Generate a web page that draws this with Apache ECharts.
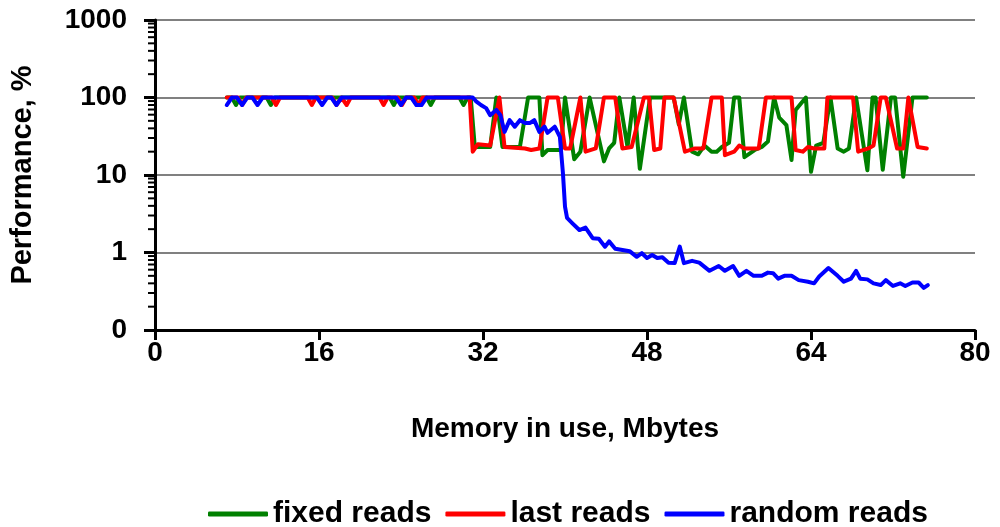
<!DOCTYPE html>
<html>
<head>
<meta charset="utf-8">
<script src="https://cdn.jsdelivr.net/npm/echarts@6/dist/echarts.min.js"></script>
<style>
html,body{margin:0;padding:0;background:#fff;}
#chart{width:1000px;height:527px;}
</style>
</head>
<body>
<div id="chart"></div>
<script>
// ---- data ----
const xTicks = [0, 16, 32, 48, 64, 80];
const yTicks = [0.1, 1, 10, 100, 1000];
const minorMultipliers = [2, 3, 4, 5, 6, 7, 8, 9];
const minorDecades = [0.1, 1, 10, 100];

const fixedReads = [
  [7,100],[7.5,100],[7.9,80],[8.3,100],[10.9,100],[11.3,80],[11.7,100],[22.9,100],[23.3,80],[23.7,100],
  [26.5,100],[26.9,80],[27.3,100],[29.7,100],[30.1,80],[30.5,100],[30.8,100],[31.2,23],[32.7,23],
  [33.3,100],[33.9,23],[35.6,23],[36.4,100],[37.5,100],[37.8,18],[38.3,21],[39.6,21],[40.0,100],
  [40.9,16],[41.5,20],[42.4,100],[43.8,15],[44.3,22],[44.8,26],[45.3,100],[46.1,23],[46.7,100],
  [47.3,12],[48.3,100],[50.6,100],[51.1,45],[51.6,100],[52.4,20],[53.0,18.5],[53.6,24],[54.3,20],
  [54.8,20],[55.3,23],[56.0,26],[56.5,100],[57.0,100],[57.5,17],[58.5,21],[59.2,23],[59.8,27],
  [60.4,100],[60.9,55],[61.6,44],[62.1,15.6],[62.5,69],[63.5,100],[64.0,11],[64.5,24],[65.2,26],
  [65.9,100],[66.6,22],[67.2,20],[67.7,22],[68.4,100],[69.5,11.5],[70.0,100],[70.3,100],[71.0,11.7],
  [71.8,100],[72.2,100],[73.0,9.5],[73.9,100],[75.3,100]
];

const lastReads = [
  [7,100],[8.1,100],[8.5,80],[8.9,100],[11.4,100],[11.8,80],[12.2,100],[14.9,100],[15.3,80],[15.7,100],
  [17.3,100],[17.7,80],[18.2,100],[18.7,80],[19.1,100],[21.9,100],[22.3,80],[22.7,100],[23.7,100],
  [24.1,80],[24.5,100],[25.3,100],[25.7,80],[26.1,100],[30.7,100],[31.0,20],[31.5,25],[32.7,24],
  [33.6,100],[34.1,23],[36.1,22],[36.7,21],[37.5,22],[38.3,100],[39.3,100],[40.0,22],[40.5,22],
  [41.5,100],[42.0,20],[43.0,22],[43.8,100],[44.9,100],[45.6,22],[46.5,23],[47.7,100],[48.2,100],
  [48.7,21],[49.3,22],[49.7,100],[50.6,100],[51.7,20],[52.7,22],[53.5,22],[54.3,100],[55.3,100],
  [55.6,18],[56.5,20],[57.0,24],[57.5,22],[58.9,22],[59.6,100],[62.1,100],[62.5,21],[63.2,20],
  [63.7,23],[64.3,22],[65.3,22],[65.6,100],[68.1,100],[68.6,20],[69.6,22],[70.1,24],[70.8,100],
  [71.3,100],[72.4,22],[73.0,22],[73.5,100],[74.4,23],[75.3,22]
];

const randomReads = [
  [7,80],[7.5,100],[8,100],[8.5,80],[9,100],[9.5,100],[10,80],[10.5,100],[15.8,100],[16.3,80],
  [16.8,100],[17.2,100],[17.7,80],[18.2,100],[23.5,100],[24,80],[24.5,100],[25,100],[25.5,80],
  [26,80],[26.5,100],[31.0,100],[31.3,90],[31.8,80],[32.3,73],[32.7,59],[33.3,69],[33.7,59],
  [34.1,36],[34.6,51],[35.1,42],[35.6,51],[36.1,47],[36.6,47],[37.0,51],[37.5,36],[38.0,42],
  [38.3,35],[39.0,42],[39.5,31],[39.8,10.5],[40.0,3.9],[40.2,2.8],[40.7,2.4],[41.4,1.95],[42.0,2.1],
  [42.7,1.53],[43.3,1.5],[43.9,1.19],[44.3,1.39],[44.9,1.12],[46.3,1.04],[47.0,0.88],[47.5,0.98],
  [48.0,0.85],[48.5,0.93],[49.0,0.85],[49.5,0.87],[50.1,0.74],[50.7,0.73],[51.2,1.19],[51.6,0.73],
  [52.4,0.78],[53.1,0.74],[54.1,0.58],[55.0,0.67],[55.6,0.58],[56.4,0.67],[57.0,0.50],[57.7,0.58],
  [58.4,0.50],[59.2,0.50],[59.8,0.55],[60.3,0.54],[60.8,0.46],[61.4,0.50],[62.1,0.50],[62.8,0.44],
  [63.7,0.42],[64.3,0.40],[64.8,0.49],[65.7,0.63],[66.6,0.50],[67.2,0.42],[67.9,0.46],[68.4,0.58],
  [68.8,0.46],[69.5,0.45],[70.1,0.40],[70.8,0.38],[71.3,0.44],[72.0,0.37],[72.7,0.40],[73.2,0.37],
  [73.9,0.41],[74.5,0.41],[75.0,0.35],[75.4,0.38]
];

// ---- build ----
const minorTicks = [];
minorDecades.forEach(d => minorMultipliers.forEach(m => minorTicks.push([0, +(d * m).toPrecision(3)])));

const FONT = "'Liberation Sans', Arial, sans-serif";
const chart = echarts.init(document.getElementById('chart'), null, {renderer: 'canvas'});

function lineSeries(name, data, color) {
  return {
    name, type: 'line', data, showSymbol: false, symbol: 'none',
    itemStyle: {color}, lineStyle: {color, width: 4, join: 'round', cap: 'round'},
    animation: false
  };
}

chart.setOption({
  animation: false,
  textStyle: {fontFamily: FONT},
  grid: {left: 150, right: 25, top: 20, bottom: 197, containLabel: false},
  xAxis: {
    type: 'value', min: xTicks[0], max: xTicks[xTicks.length - 1], interval: 16,
    name: 'Memory in use, Mbytes', nameLocation: 'middle', nameGap: 85,
    nameTextStyle: {fontSize: 28, fontWeight: 'bold', color: '#000', fontFamily: FONT},
    axisLine: {show: true, onZero: false, lineStyle: {color: '#000', width: 3}},
    axisTick: {show: true, length: 10, lineStyle: {color: '#000', width: 3}},
    axisLabel: {fontSize: 28, fontWeight: 'bold', color: '#000', margin: 9, fontFamily: FONT},
    splitLine: {show: false}
  },
  yAxis: {
    type: 'log', logBase: 10, min: yTicks[0], max: yTicks[yTicks.length - 1],
    name: 'Performance, %', nameLocation: 'middle', nameGap: 118, nameRotate: 90,
    nameTextStyle: {fontSize: 29, fontWeight: 'bold', color: '#000', fontFamily: FONT},
    axisLine: {show: true, lineStyle: {color: '#000', width: 3}},
    axisTick: {show: true, length: 11, lineStyle: {color: '#000', width: 3}},
    axisLabel: {
      fontSize: 28, fontWeight: 'bold', color: '#000', margin: 28, fontFamily: FONT,
      formatter: v => { const r = Math.round(v * 10) / 10; return r < 1 ? '0' : String(Math.round(r)); }
    },
    splitLine: {show: true, lineStyle: {color: '#808080', width: 2}}
  },
  legend: {
    data: ['fixed reads', 'last reads', 'random reads'],
    top: 494, left: 203, icon: 'roundRect', itemWidth: 60, itemHeight: 5, itemGap: 14,
    textStyle: {fontSize: 30, fontWeight: 'bold', color: '#000', fontFamily: FONT}
  },
  series: [
    lineSeries('fixed reads', fixedReads, '#008000'),
    lineSeries('last reads', lastReads, '#FF0000'),
    lineSeries('random reads', randomReads, '#0000FF'),
    {
      name: 'minor', type: 'custom', data: minorTicks, silent: true, clip: false, z: 5,
      renderItem: (params, api) => {
        const p = api.coord([api.value(0), api.value(1)]);
        return {type: 'line', shape: {x1: p[0] - 7, y1: p[1], x2: p[0], y2: p[1]},
                style: {stroke: '#000', lineWidth: 2}};
      }
    }
  ]
});
</script>
</body>
</html>
